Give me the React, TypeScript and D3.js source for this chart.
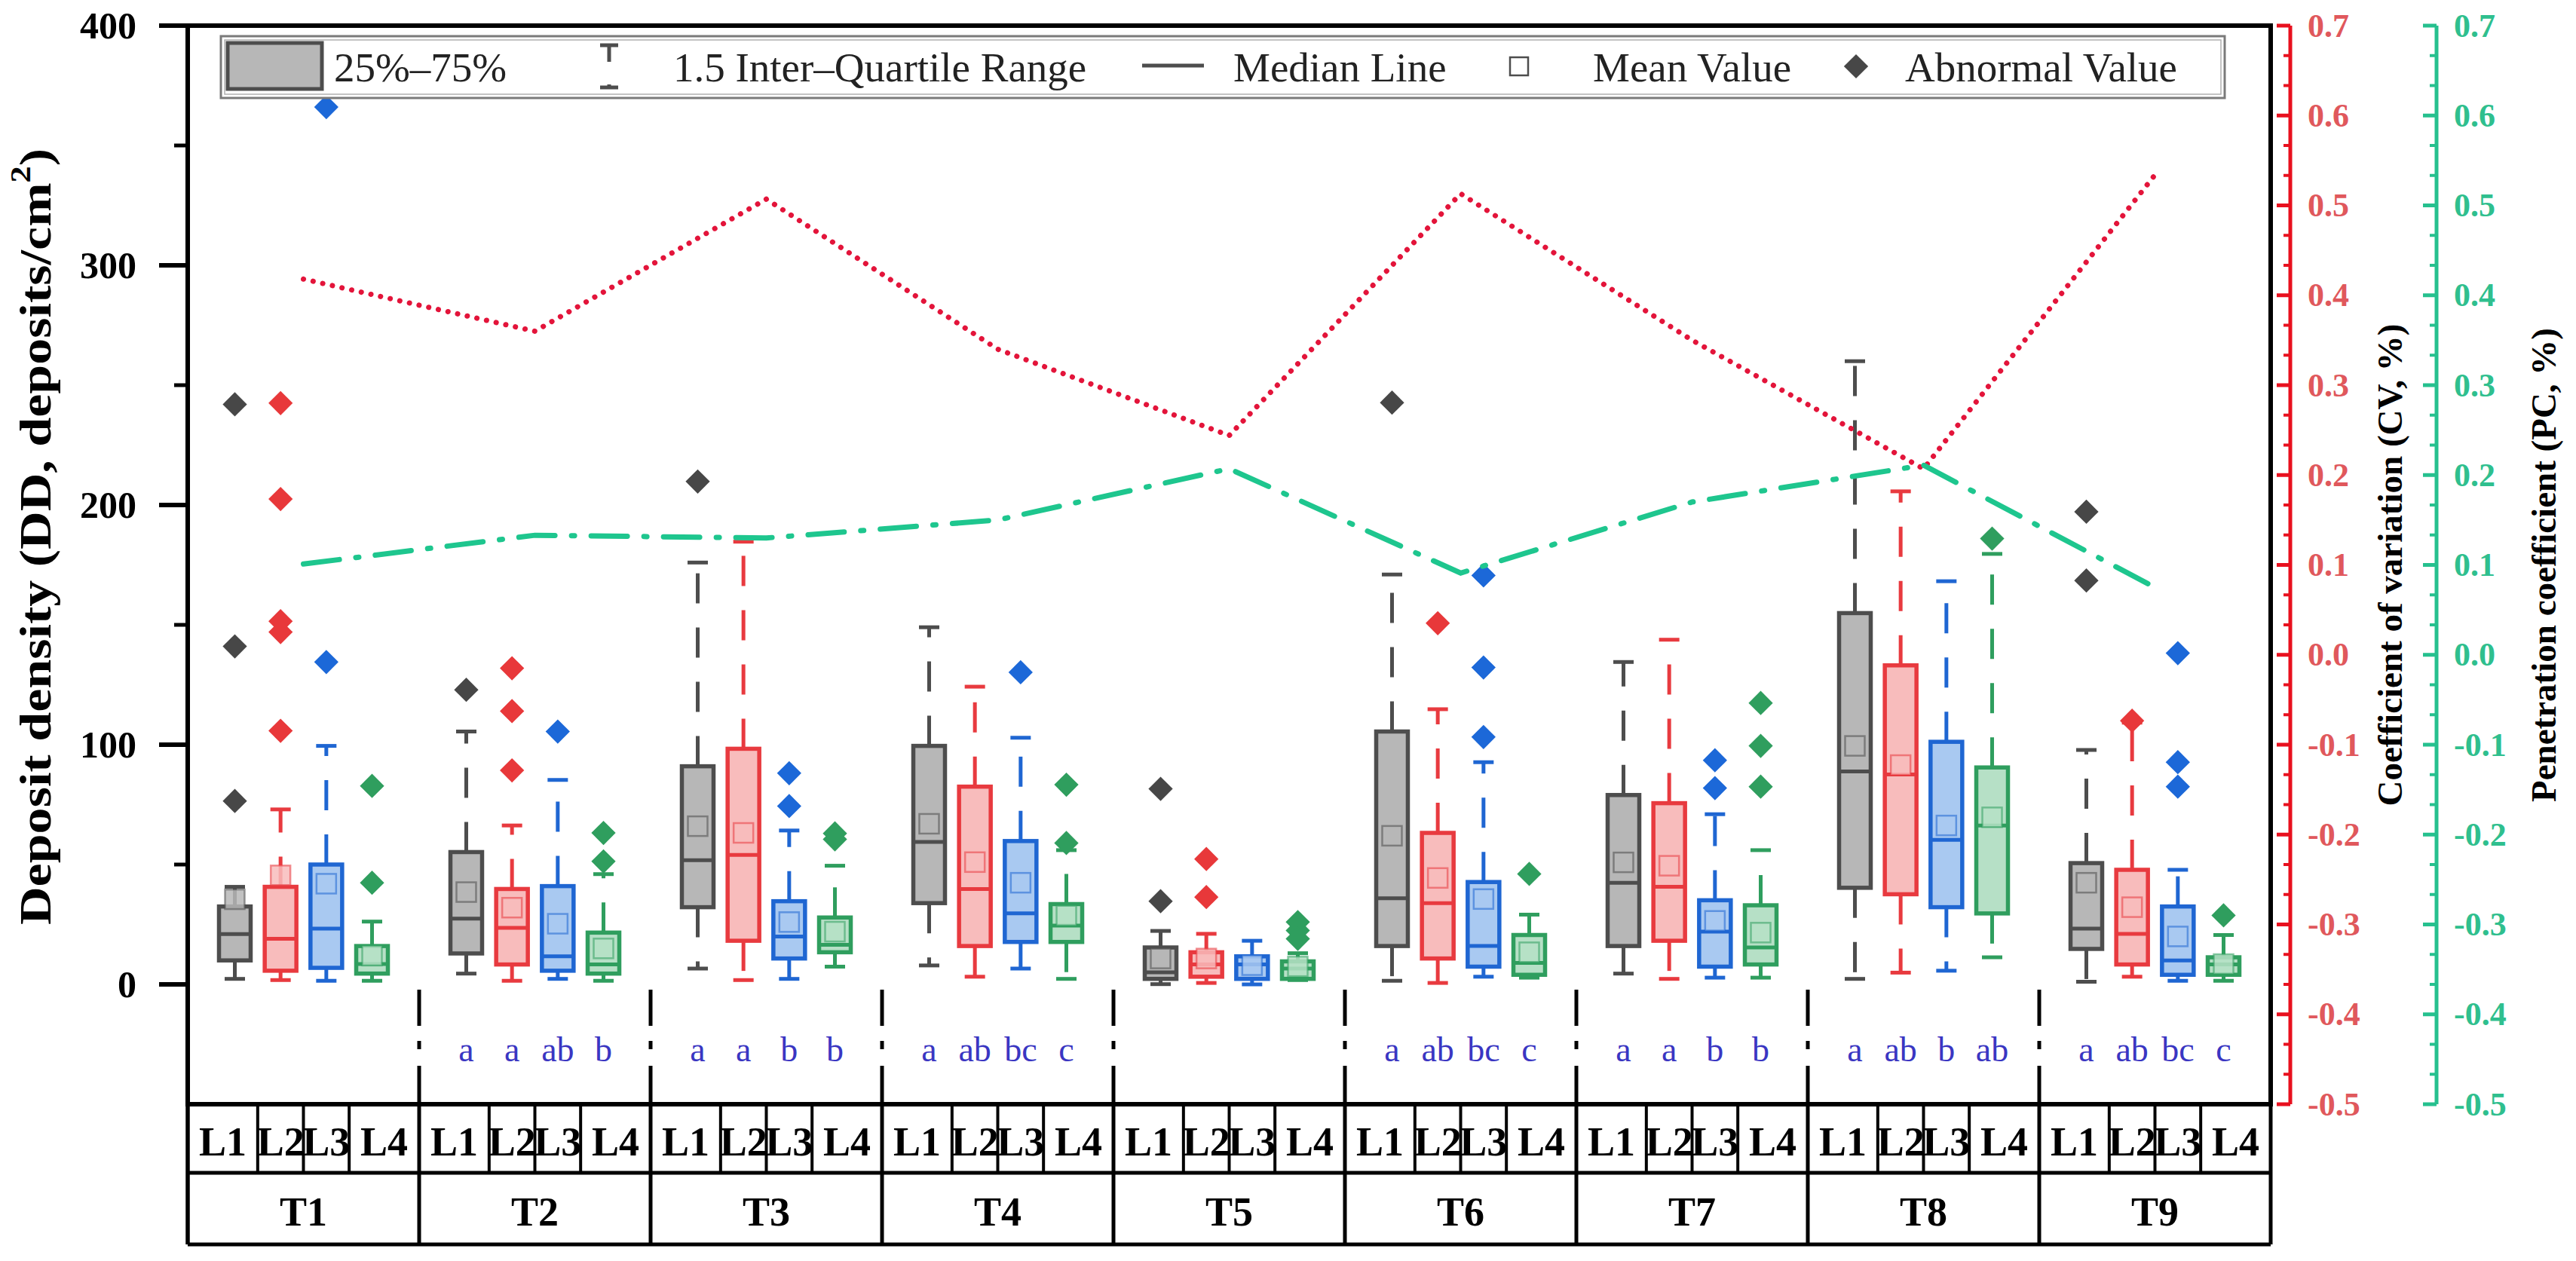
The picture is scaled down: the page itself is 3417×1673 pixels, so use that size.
import React from "react";
import * as d3 from "d3";

// ---- data ----
const groups = ["T1", "T2", "T3", "T4", "T5", "T6", "T7", "T8", "T9"];
const layers = ["L1", "L2", "L3", "L4"];

// per group, per layer (L1..L4)
const whiskerLow = [
  [2.3, 1.8, 1.5, 1.5],
  [4.5, 1.5, 2.3, 1.5],
  [6.6, 1.8, 2.3, 7.4],
  [7.9, 3.2, 6.6, 2.3],
  [0.1, 0.6, 0, 1.8],
  [1.5, 0.6, 3.2, 2.8],
  [4.5, 2.3, 2.8, 2.8],
  [2.3, 4.9, 5.7, 11.3],
  [1.1, 3.2, 1.5, 1.5],
];
const q1 = [
  [10, 5.7, 6.9, 4.5],
  [12.9, 8.3, 5.7, 4.5],
  [32.2, 18.2, 10.8, 13.4],
  [33.9, 16, 17.7, 17.7],
  [2.3, 3.2, 2.3, 2.3],
  [16, 10.8, 7.4, 4],
  [16, 18.2, 7.4, 8.3],
  [40.3, 37.6, 32.2, 29.6],
  [14.8, 8.3, 4, 4],
];
const median = [
  [21, 19, 23.3, 8.5],
  [27.4, 23.6, 11.7, 8.3],
  [51.8, 54, 20, 16.5],
  [59.4, 39.8, 29.6, 24.5],
  [5, 8.3, 8.3, 6.6],
  [35.9, 33.9, 16, 9],
  [42.4, 40.7, 22, 15.4],
  [88.8, 87.6, 60.3, 66.3],
  [23.3, 21.1, 10, 8.3],
];
const q3 = [
  [32.5, 40.7, 50, 16],
  [55.2, 39.8, 41, 21.6],
  [91, 98.3, 34.7, 27.9],
  [99.5, 82.5, 59.8, 33.5],
  [15.4, 13.4, 11.7, 9.6],
  [105.5, 63.2, 42.7, 20.6],
  [79, 75.6, 35.1, 33],
  [154.9, 133.1, 101.2, 90.5],
  [50.6, 47.8, 32.5, 11.3],
];
const whiskerHigh = [
  [40.7, 73, 99.5, 26.2],
  [105.5, 66.3, 85.3, 46],
  [176, 184.7, 64.2, 49.5],
  [149, 124.2, 102.9, 56],
  [22.3, 21.1, 18.2, 13],
  [171, 114.8, 92.7, 29.1],
  [134.5, 143.8, 71, 56],
  [260, 205.7, 168.2, 179.6],
  [97.8, 109.2, 47.8, 20.6],
];
const meanValue = [
  [35.5, 45.5, 42, 12],
  [38.5, 32, 25.3, 15],
  [66, 63.2, 26, 22],
  [67, 51, 42.4, 28.7],
  [10.8, 10.8, 8, 7.5],
  [62, 44.4, 35.6, 13.4],
  [50.9, 49.5, 26.5, 21.6],
  [99.5, 91.5, 66.3, 69.7],
  [42.4, 32.2, 20, 8.5],
];
const outliers = [
  [[242, 141, 76.5], [242.5, 202.5, 151.5, 147, 105.8], [366, 134.5], [82.8, 42.4]],
  [[122.9], [131.9, 114, 89.3], [105.5], [63.2, 51.3]],
  [[209.8], [], [88.1, 74.4], [63, 60.5]],
  [[], [], [130.2], [83.3, 59]],
  [[81.6, 34.7], [52.3, 36.4], [], [26, 22.5, 19]],
  [[242.7], [150.7], [170.6, 132.2, 103.2], [46.1]],
  [[], [], [93.5, 81.9], [117.4, 99.5, 82.5]],
  [[], [], [], [186]],
  [[197.2, 168.5], [110], [138.2, 92.7, 82.5], [28.8]],
];
const letters = [
  ["", "", "", ""],
  ["a", "a", "ab", "b"],
  ["a", "a", "b", "b"],
  ["a", "ab", "bc", "c"],
  ["", "", "", ""],
  ["a", "ab", "bc", "c"],
  ["a", "a", "b", "b"],
  ["a", "ab", "b", "ab"],
  ["a", "ab", "bc", "c"],
];
const cvValues = [0.418, 0.36, 0.507, 0.34, 0.244, 0.513, 0.35, 0.207, 0.534];
const pcValues = [0.101, 0.133, 0.13, 0.15, 0.207, 0.091, 0.17, 0.211, 0.075];
const leftTicks = [0, 100, 200, 300, 400];
const rightTicks = [0.7, 0.6, 0.5, 0.4, 0.3, 0.2, 0.1, 0.0, -0.1, -0.2, -0.3, -0.4, -0.5];

const layerStroke = ["#4d4d4d", "#e83a3f", "#1f66d2", "#2f9e5e"];
const layerFill = ["#b7b7b7", "#f8bcbc", "#a9c9f1", "#b6e0c6"];
const layerDot = ["#474747", "#e8383a", "#1c68d8", "#2f9e5e"];

const W = 3417;
const H = 1673;
const plotLeft = 249;
const plotRight = 3012;
const plotTop = 34;
const plotBottom = 1465;
const tableMid = 1556;
const tableBottom = 1651;
const redAxisX = 3038;
const greenAxisX = 3232;
const serif = "'Liberation Serif', 'Times New Roman', serif";

const App: React.FC = () => {
  const xGroup = d3.scaleBand<string>().domain(groups).range([plotLeft, plotRight]);
  const xLayer = d3.scalePoint<string>().domain(layers).range([0, xGroup.bandwidth()]).padding(1.03);
  const y = d3.scaleLinear().domain([-50, 400]).range([plotBottom, plotTop]);
  const yR = d3.scaleLinear().domain([-0.5, 0.7]).range([plotBottom, plotTop]);

  const boxW = 42;
  const capW = 27;
  const groupCenter = (g: string) => (xGroup(g) as number) + xGroup.bandwidth() / 2;
  const boxX = (g: string, l: string) => (xGroup(g) as number) + (xLayer(l) as number);
  const step = xLayer.step();

  const diamond = d3.symbol().type(d3.symbolSquare).size(520)()!;

  const seriesLine = d3
    .line<number>()
    .x((_, i) => groupCenter(groups[i]))
    .y((d) => yR(d));

  const minorLeft = d3.range(50, 400, 100);
  const minorRight = d3
    .range(-0.5, 0.7001, 1 / 30)
    .filter((v) => Math.abs(Math.round(v * 10) - v * 10) > 0.01);

  const midY = (plotTop + plotBottom) / 2;

  return (
    <svg
      width={W}
      height={H}
      style={{ position: "absolute", left: 0, top: 0, background: "#fff" }}
      fontFamily={serif}
    >
      {/* boxes */}
      {groups.map((g, gi) =>
        layers.map((l, li) => {
          const cx = boxX(g, l);
          const stroke = layerStroke[li];
          const yq1 = y(q1[gi][li]);
          const yq3 = y(q3[gi][li]);
          const yHi = y(whiskerHigh[gi][li]);
          const yLo = y(whiskerLow[gi][li]);
          const yMean = y(meanValue[gi][li]);
          return (
            <g key={g + l}>
              <line x1={cx} x2={cx} y1={yq3} y2={yHi} stroke={stroke} strokeWidth={5} strokeDasharray="40 32" />
              <line x1={cx} x2={cx} y1={yq1} y2={yLo} stroke={stroke} strokeWidth={5} strokeDasharray="40 32" />
              <line x1={cx - capW / 2} x2={cx + capW / 2} y1={yHi} y2={yHi} stroke={stroke} strokeWidth={5} />
              <line x1={cx - capW / 2} x2={cx + capW / 2} y1={yLo} y2={yLo} stroke={stroke} strokeWidth={5} />
              <rect
                x={cx - boxW / 2}
                y={yq3}
                width={boxW}
                height={Math.max(1, yq1 - yq3)}
                fill={layerFill[li]}
                stroke={stroke}
                strokeWidth={5.5}
              />
              <line
                x1={cx - boxW / 2}
                x2={cx + boxW / 2}
                y1={y(median[gi][li])}
                y2={y(median[gi][li])}
                stroke={stroke}
                strokeWidth={5}
              />
              <rect
                x={cx - 13}
                y={yMean - 13}
                width={26}
                height={26}
                fill={layerFill[li]}
                fillOpacity={0.85}
                stroke={stroke}
                strokeOpacity={0.55}
                strokeWidth={2.5}
              />
              {outliers[gi][li].map((v, k) => (
                <path key={k} d={diamond} transform={`translate(${cx},${y(v)}) rotate(45)`} fill={layerDot[li]} />
              ))}
              <text x={cx} y={1392} textAnchor="middle" dominantBaseline="central" fontSize={46} fill="#3a36c2">
                {letters[gi][li]}
              </text>
            </g>
          );
        })
      )}

      {/* CV and PC lines */}
      <path
        d={seriesLine(cvValues)!}
        fill="none"
        stroke="#e3143a"
        strokeWidth={7}
        strokeLinecap="round"
        strokeDasharray="0.1 13"
      />
      <path
        d={seriesLine(pcValues)!}
        fill="none"
        stroke="#1ec68e"
        strokeWidth={7}
        strokeLinecap="round"
        strokeDasharray="48 22 4 22"
      />

      {/* group separators in the lower part */}
      {groups.slice(1).map((g) => (
        <line
          key={g}
          x1={xGroup(g)}
          x2={xGroup(g)}
          y1={1313}
          y2={plotBottom}
          stroke="#000"
          strokeWidth={5}
          strokeDasharray="48 20 11 22"
        />
      ))}

      {/* frame */}
      <rect
        x={plotLeft}
        y={plotTop}
        width={plotRight - plotLeft}
        height={plotBottom - plotTop}
        fill="none"
        stroke="#000"
        strokeWidth={6}
      />

      {/* left axis */}
      {leftTicks.map((t) => (
        <g key={t}>
          <line x1={plotLeft - 38} x2={plotLeft} y1={y(t)} y2={y(t)} stroke="#000" strokeWidth={6} />
          <text x={181} y={y(t)} textAnchor="end" dominantBaseline="central" fontSize={50} fontWeight="bold">
            {t}
          </text>
        </g>
      ))}
      {minorLeft.map((t) => (
        <line key={t} x1={plotLeft - 18} x2={plotLeft} y1={y(t)} y2={y(t)} stroke="#000" strokeWidth={5} />
      ))}
      <text
        transform={`translate(47,712) rotate(-90)`}
        textAnchor="middle"
        dominantBaseline="central"
        fontSize={60}
        fontWeight="bold"
        textLength={1030}
        lengthAdjust="spacingAndGlyphs"
      >
        Deposit density (DD, deposits/cm
        <tspan dy={-20} fontSize={38}>
          2
        </tspan>
        <tspan dy={20}>)</tspan>
      </text>

      {/* right axes */}
      {[
        { x: redAxisX, line: "#e8101e", label: "#e0585c", title: "Coefficient of variation (CV, %)", titleX: 3170 },
        { x: greenAxisX, line: "#26c08e", label: "#2fbf8e", title: "Penetration coefficient (PC, %)", titleX: 3374 },
      ].map((ax) => (
        <g key={ax.x}>
          <line x1={ax.x} x2={ax.x} y1={plotTop} y2={plotBottom} stroke={ax.line} strokeWidth={5} />
          {rightTicks.map((t) => (
            <g key={t}>
              <line x1={ax.x - 18} x2={ax.x} y1={yR(t)} y2={yR(t)} stroke={ax.line} strokeWidth={5} />
              <text
                x={ax.x + 23}
                y={yR(t)}
                dominantBaseline="central"
                fontSize={44}
                fontWeight="bold"
                fill={ax.label}
              >
                {d3.format(".1f")(t).replace("−", "-")}
              </text>
            </g>
          ))}
          {minorRight.map((t, i) => (
            <line key={i} x1={ax.x - 9} x2={ax.x} y1={yR(t)} y2={yR(t)} stroke={ax.line} strokeWidth={4} />
          ))}
          <text
            transform={`translate(${ax.titleX},${midY}) rotate(-90)`}
            textAnchor="middle"
            dominantBaseline="central"
            fontSize={47}
            fontWeight="bold"
          >
            {ax.title}
          </text>
        </g>
      ))}

      {/* table under the plot */}
      <line x1={plotLeft} x2={plotRight} y1={tableMid} y2={tableMid} stroke="#000" strokeWidth={5} />
      <line x1={plotLeft} x2={plotRight} y1={tableBottom} y2={tableBottom} stroke="#000" strokeWidth={5} />
      <line x1={plotLeft} x2={plotLeft} y1={plotBottom} y2={tableBottom} stroke="#000" strokeWidth={5} />
      <line x1={plotRight} x2={plotRight} y1={plotBottom} y2={tableBottom} stroke="#000" strokeWidth={5} />
      {groups.map((g) => (
        <g key={g}>
          <line x1={xGroup(g)} x2={xGroup(g)} y1={plotBottom} y2={tableBottom} stroke="#000" strokeWidth={5} />
          {layers.slice(1).map((l) => (
            <line
              key={l}
              x1={boxX(g, l) - step / 2}
              x2={boxX(g, l) - step / 2}
              y1={plotBottom}
              y2={tableMid}
              stroke="#000"
              strokeWidth={4}
            />
          ))}
          {layers.map((l, li) => {
            const left = li === 0 ? (xGroup(g) as number) : boxX(g, l) - step / 2;
            const right = li === 3 ? (xGroup(g) as number) + xGroup.bandwidth() : boxX(g, l) + step / 2;
            return (
              <text
                key={l}
                x={(left + right) / 2}
                y={(plotBottom + tableMid) / 2 + 4}
                textAnchor="middle"
                dominantBaseline="central"
                fontSize={54}
                fontWeight="bold"
              >
                {l}
              </text>
            );
          })}
          <text
            x={groupCenter(g)}
            y={(tableMid + tableBottom) / 2 + 4}
            textAnchor="middle"
            dominantBaseline="central"
            fontSize={54}
            fontWeight="bold"
          >
            {g}
          </text>
        </g>
      ))}

      {/* legend */}
      <g>
        <rect x={293} y={48} width={2658} height={82} fill="#fff" stroke="#7a7a7a" strokeWidth={3} />
        <rect x={298} y={53} width={2648} height={72} fill="none" stroke="#b0b0b0" strokeWidth={1.5} />
        <rect x={302} y={57} width={125} height={61} fill="#b7b7b7" stroke="#4d4d4d" strokeWidth={5} />
        <text x={443} y={89} dominantBaseline="central" fontSize={55} fill="#222">
          25%–75%
        </text>
        <line x1={808} x2={808} y1={60} y2={116} stroke="#4d4d4d" strokeWidth={5} strokeDasharray="22 30" />
        <line x1={796} x2={820} y1={60} y2={60} stroke="#4d4d4d" strokeWidth={5} />
        <line x1={796} x2={820} y1={116} y2={116} stroke="#4d4d4d" strokeWidth={5} />
        <text x={893} y={89} dominantBaseline="central" fontSize={55} fill="#222">
          1.5 Inter–Quartile Range
        </text>
        <line x1={1515} x2={1597} y1={87} y2={87} stroke="#4d4d4d" strokeWidth={5} />
        <text x={1636} y={89} dominantBaseline="central" fontSize={55} fill="#222">
          Median Line
        </text>
        <rect x={2003} y={76} width={24} height={24} fill="#fff" stroke="#4d4d4d" strokeWidth={2.5} />
        <text x={2113} y={89} dominantBaseline="central" fontSize={55} fill="#222">
          Mean Value
        </text>
        <path d={diamond} transform="translate(2462,88) rotate(45)" fill="#474747" />
        <text x={2527} y={89} dominantBaseline="central" fontSize={55} fill="#222">
          Abnormal Value
        </text>
      </g>
    </svg>
  );
};

export default App;
